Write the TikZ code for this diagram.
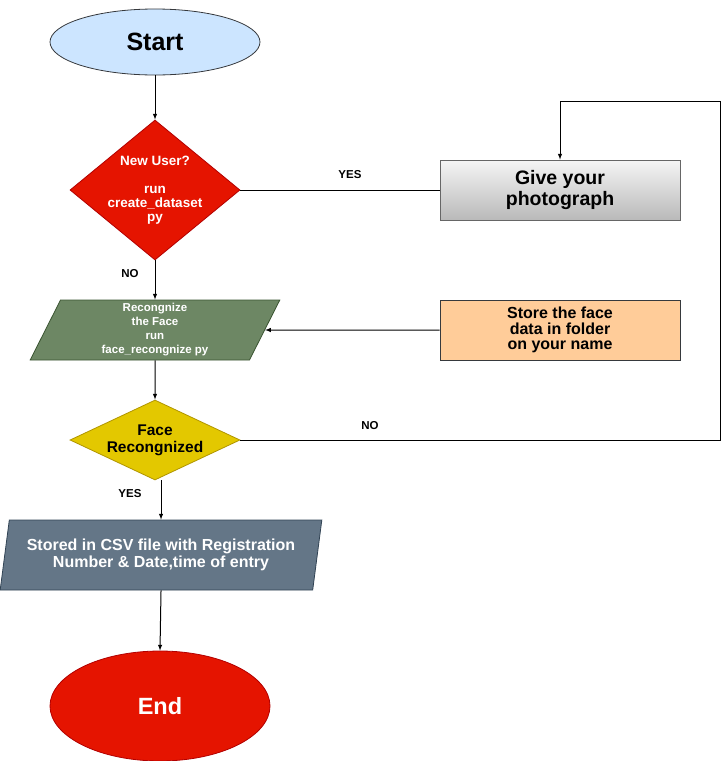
\documentclass[tikz,border=0pt]{standalone}
\usepackage{fontspec}
\setmainfont{Liberation Sans}
\usetikzlibrary{arrows,shapes}
\usetikzlibrary{positioning}

\definecolor{startblue}{HTML}{CCE5FF}
\definecolor{darkedge}{HTML}{36393D}
\definecolor{endred}{HTML}{E51400}
\definecolor{rededge}{HTML}{B20000}
\definecolor{facegreen}{HTML}{6D8764}
\definecolor{greenedge}{HTML}{3A5431}
\definecolor{faceyellow}{HTML}{E3C800}
\definecolor{yellowedge}{HTML}{B09500}
\definecolor{csvslate}{HTML}{647687}
\definecolor{slateedge}{HTML}{314354}
\definecolor{storeorange}{HTML}{FFCC99}
\definecolor{greyedge}{HTML}{666666}

% font size and line distance in one go
\newcommand{\fs}[2]{\fontsize{#1}{#2}\selectfont}

\begin{document}
\begin{tikzpicture}[x=1pt, y=-1pt, >=latex, line width=1pt,
    term/.style={ellipse, draw, line width=0.8pt, inner sep=0pt},
    decision/.style={diamond, draw, line width=0.8pt, align=center},
    io/.style={trapezium, trapezium stretches=true, draw, line width=0.8pt,
               inner sep=0pt, align=center},
    proc/.style={rectangle, draw, line width=0.8pt, minimum width=240pt,
                 minimum height=60pt, inner sep=0pt, align=center},
    lbl/.style={font=\bfseries\fs{11.5}{13}}]

    % page size of the reference
    \useasboundingbox (0,0) rectangle (722,761);

    % main column
    \node[term, fill=startblue, draw=darkedge, minimum width=210pt, minimum height=66pt,
          font=\bfseries\fs{25}{28}] (start) at (155,42) {Start};

    \node[decision, fill=endred, draw=rededge, aspect=1.214, inner sep=-8pt,
          minimum width=170pt, minimum height=140pt,
          text=white, font=\bfseries\fs{13.5}{14}] (newuser) at (155,190)
          {New User?\\[14pt]run\\create\_dataset\\py};

    \node[io, trapezium left angle=72, trapezium right angle=108,
          fill=facegreen, draw=greenedge, minimum width=250pt, minimum height=60pt,
          text=white, font=\bfseries\fs{11.5}{14}] (recog) at (155,330)
          {Recongnize\\the Face\\run\\face\_recongnize py};

    \node[decision, fill=faceyellow, draw=yellowedge, aspect=2.125, inner sep=-3pt,
          minimum width=170pt, minimum height=80pt,
          font=\bfseries\fs{15.5}{17}] (facerec) at (155,440) {Face\\Recongnized};

    \node[io, trapezium left angle=76, trapezium right angle=104,
          fill=csvslate, draw=slateedge, minimum width=322pt, minimum height=70pt,
          text=white, font=\bfseries\fs{16}{17.5}] (csv) at (161,555)
          {Stored in CSV file with Registration\\Number \& Date,time of entry};

    \node[term, fill=endred, draw=rededge, minimum width=220pt, minimum height=110pt,
          text=white, font=\bfseries\fs{23.5}{26}] (end) at (160,706) {End};

    % right column
    \node[proc, draw=greyedge, top color=gray!8, bottom color=gray!55,
          font=\bfseries\fs{19.5}{20.5}] (photo) at (560,190) {Give your\\photograph};

    \node[proc, fill=storeorange, draw=darkedge, font=\bfseries\fs{16}{15.5}] (store) at (560,330)
          {Store the face\\data in folder\\on your name};

    \coordinate (loopR) at (720,101);

    % connectors
    \draw[->] (start) -- (newuser);
    \draw (newuser.east) -- (photo.west);
    \draw[->] (newuser) -- (recog);
    \draw[->] (store.west) -- (recog.east);
    \draw[->] (recog) -- (facerec);
    \draw (facerec.east) -| (loopR);
    \draw[->] (loopR) -| (photo.north);
    \draw[->] (csv.north |- facerec.south) -- (csv.north);
    \draw[->] (csv.south) -- (end.north);

    % branch labels
    \node[lbl] (yes1) at (350,175) {YES};
    \node[lbl] (no1) at (130,274) {NO};
    \node[lbl] (no2) at (370,426) {NO};
    \node[lbl] (yes2) at (130,494) {YES};
\end{tikzpicture}
\end{document}
